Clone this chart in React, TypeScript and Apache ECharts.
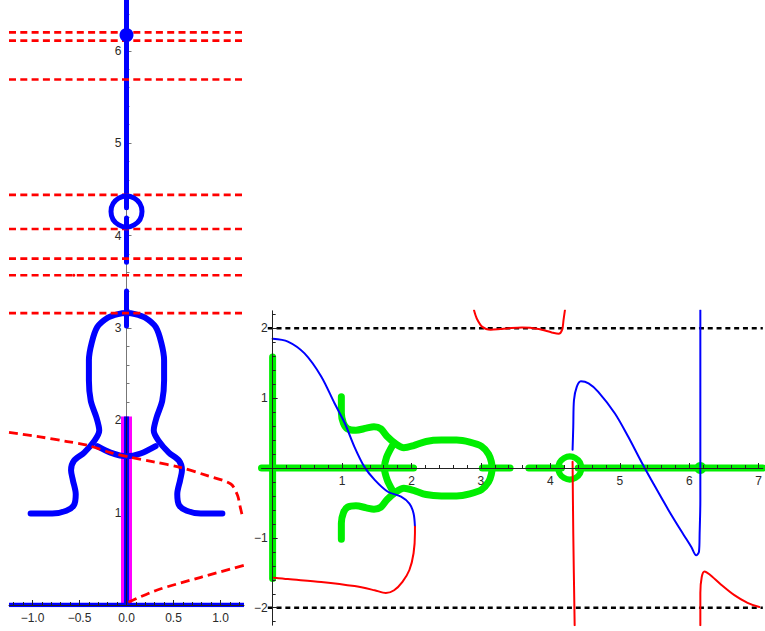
import { useEffect, useRef } from 'react';
import * as echarts from 'echarts';

type Pt = [number, number];

// ---------- left panel ----------
const levelLines = [6.2, 6.11, 5.69, 4.44, 4.07, 3.75, 3.57, 3.16];

const bulb: Pt[] = [
  [-1.02, 0.99], [-0.79, 0.99], [-0.64, 1.02], [-0.56, 1.08], [-0.54, 1.2], [-0.57, 1.35],
  [-0.59, 1.46], [-0.56, 1.56], [-0.45, 1.65], [-0.34, 1.78], [-0.29, 1.89], [-0.32, 2.03],
  [-0.38, 2.21], [-0.4, 2.43], [-0.4, 2.65], [-0.37, 2.84], [-0.31, 3.01], [-0.2, 3.11],
  [-0.09, 3.15], [0, 3.16], [0.09, 3.15], [0.2, 3.11], [0.31, 3.01], [0.37, 2.84],
  [0.4, 2.65], [0.4, 2.43], [0.38, 2.21], [0.32, 2.03], [0.29, 1.89], [0.34, 1.78],
  [0.45, 1.65], [0.56, 1.56], [0.59, 1.46], [0.57, 1.35], [0.54, 1.2], [0.56, 1.08],
  [0.64, 1.02], [0.79, 0.99], [1.02, 0.99],
];
const bulbArc: Pt[] = [[-0.31, 1.72], [-0.17, 1.65], [0, 1.61], [0.15, 1.64], [0.31, 1.72]];

const redCurveUpper: Pt[] = [
  [-1.25, 1.87], [-0.92, 1.82], [-0.63, 1.77], [-0.42, 1.73], [-0.17, 1.65], [0.04, 1.6],
  [0.29, 1.55], [0.57, 1.49], [0.86, 1.4], [1.11, 1.31], [1.18, 1.19], [1.21, 1.06], [1.24, 0.93],
];
const redCurveLower: Pt[] = [[0.02, 0.03], [0.32, 0.16], [0.79, 0.3], [1.25, 0.43]];

const spineSegments: Pt[][] = [
  [[0, 4.3], [0, 6.55]],
  [[0, 3.71], [0, 4.19]],
  [[0, 3.02], [0, 3.4]],
];
const spineDot: Pt = [0, 6.17];
const spineRing: Pt = [0, 4.26];
const stem: Pt[] = [[0, 0], [0, 2.04]];
const baseLine: Pt[] = [[-1.25, 0], [1.25, 0]];
const strayPoint: Pt = [-0.56, 3.57];

// ---------- right panel ----------
const bounds = [-2, 2];
const blueA: Pt[] = [
  [0, 1.85], [0.22, 1.81], [0.46, 1.64], [0.7, 1.31], [0.89, 0.93], [1.04, 0.64], [1.18, 0.3],
  [1.32, 0.02], [1.47, -0.17], [1.66, -0.34], [1.85, -0.41], [1.97, -0.51], [2.03, -0.65], [2.05, -0.84],
];
const redA: Pt[] = [
  [2.05, -0.84], [2.05, -0.93], [2.03, -1.22], [1.97, -1.46], [1.87, -1.63], [1.75, -1.75],
  [1.63, -1.79], [1.47, -1.75], [1.18, -1.69], [0.7, -1.63], [0.22, -1.59], [0.02, -1.57],
];
const redTop: Pt[] = [
  [2.9, 2.26], [2.94, 2.14], [3.02, 2.02], [3.14, 1.98], [3.28, 1.99], [3.4, 2.0], [3.59, 2.01],
  [3.83, 1.99], [4.02, 1.94], [4.12, 1.92], [4.17, 1.98], [4.19, 2.12], [4.21, 2.26],
];
const redDrop: Pt[] = [[4.32, 0.09], [4.33, -0.93], [4.35, -2.25]];
const blueB: Pt[] = [
  [4.32, 0.26], [4.33, 0.59], [4.34, 0.97], [4.38, 1.16], [4.44, 1.24], [4.55, 1.21], [4.69, 1.09],
  [4.93, 0.78], [5.12, 0.45], [5.31, 0.09], [5.51, -0.27], [5.7, -0.6], [5.89, -0.91], [6.03, -1.13],
  [6.1, -1.25], [6.14, -1.2], [6.15, -0.93], [6.16, -0.46], [6.16, 0.97], [6.16, 2.26],
];
const redC: Pt[] = [
  [6.16, -2.25], [6.16, -1.79], [6.18, -1.56], [6.22, -1.48], [6.29, -1.52], [6.46, -1.67],
  [6.65, -1.82], [6.84, -1.93], [7.01, -1.99],
];
const greenAxisSegments: Pt[] = [[-0.16, 2.03], [3.02, 3.42], [3.69, 4.16], [4.4, 7.06]];
const greenVertical: Pt = [-1.58, 1.59];
const greenRing: Pt = [4.28, 0];
const greenDot: Pt = [6.16, 0];

// ---------- ticks ----------
const leftXMajor = [-1, -0.5, 0, 0.5, 1];
const leftYMajor = [1, 2, 3, 4, 5, 6];
const rightXMajor = [1, 2, 3, 4, 5, 6, 7];
const rightYMajor = [-2, -1, 1, 2];

// tick positions on a k*step lattice between lo and hi, leaving out the majors
function minorTicks(lo: number, hi: number, step: number, majors: number[]) {
  const out: number[] = [];
  for (let k = Math.ceil(lo / step - 1e-9); k * step <= hi + 1e-9; k++) {
    const v = Math.round(k * step * 1000) / 1000;
    if (!majors.some((m) => Math.abs(m - v) < 1e-6) && Math.abs(v) > 1e-9) out.push(v);
  }
  return out;
}

// plot boxes and value ranges
const LEFT_BOX = { left: 9, top: 0, width: 235, height: 605 };
const LEFT_X: Pt = [-1.25, 1.25];
const LEFT_Y: Pt = [0, 6.55];
const RIGHT_BOX = { left: 261.5, top: 310.8, width: 503.5, height: 314.4 };
const RIGHT_X: Pt = [-0.16, 7.06];
const RIGHT_Y: Pt = [-2.25, 2.25];

// pixel shift that puts a y axis on x = 0 / an x axis on y = 0
const leftYShift = -(LEFT_BOX.width * (0 - LEFT_X[0])) / (LEFT_X[1] - LEFT_X[0]);
const rightYShift = -(RIGHT_BOX.width * (0 - RIGHT_X[0])) / (RIGHT_X[1] - RIGHT_X[0]);
const rightXShift = -(RIGHT_BOX.height * (0 - RIGHT_Y[0])) / (RIGHT_Y[1] - RIGHT_Y[0]);

const BLUE = '#0000ff';
const RED = '#ff0000';
const GREEN = '#00ee00';
const MAGENTA = '#ff00ff';
const AXIS = '#222222';
const FONT = 'Liberation Sans, Arial, sans-serif';

const minus = (s: string) => s.replace('-', '\u2212');

function majorAxis(grid: number, range: Pt, ticks: number[], fmt: (v: number) => string, margin: number, position: string, offset: number, color = AXIS, z = 10) {
  return {
    type: 'value', gridIndex: grid, min: range[0], max: range[1], position, offset, z,
    axisLine: { show: true, onZero: false, lineStyle: { color, width: 1 } },
    axisTick: { show: true, inside: true, length: 5, customValues: ticks, lineStyle: { color, width: 1 } },
    axisLabel: { show: true, customValues: ticks, formatter: fmt, margin, color: '#2a2a2a', fontSize: 12, fontFamily: FONT },
    splitLine: { show: false },
  };
}
function minorAxis(grid: number, range: Pt, ticks: number[], position: string, offset: number, color = AXIS, z = 10) {
  return {
    type: 'value', gridIndex: grid, min: range[0], max: range[1], position, offset, z,
    axisLine: { show: false, onZero: false },
    axisTick: { show: true, inside: true, length: 3, customValues: ticks, lineStyle: { color, width: 1 } },
    axisLabel: { show: false },
    splitLine: { show: false },
  };
}

function line(xi: number, data: Pt[], color: string, width: number, opts: any = {}) {
  return {
    type: 'line', xAxisIndex: xi, yAxisIndex: xi, data, symbol: 'none', silent: true,
    lineStyle: { color, width, cap: 'round', join: 'round', ...(opts.lineStyle || {}) },
    smooth: opts.smooth ?? 0, z: opts.z ?? 3,
  };
}
function dot(xi: number, p: Pt, color: string, size: number, ring = 0, z = 6) {
  return {
    type: 'scatter', xAxisIndex: xi, yAxisIndex: xi, data: [p], symbol: 'circle', symbolSize: size, silent: true, z,
    itemStyle: ring
      ? { color: 'rgba(0,0,0,0)', borderColor: color, borderWidth: ring, opacity: 1 }
      : { color, opacity: 1 },
  };
}

export default function App() {
  const ref = useRef<HTMLDivElement>(null);
  useEffect(() => {
    if (!ref.current) return;
    const chart = echarts.init(ref.current, null, { renderer: 'svg' });

    const series: any[] = [];
    // left panel (axis pair 0)
    series.push(line(0, stem, MAGENTA, 11, { lineStyle: { cap: 'butt' }, z: 2 }));
    series.push(line(0, stem, BLUE, 5, { lineStyle: { cap: 'butt' }, z: 3 }));
    series.push(line(0, stem, '#101040', 1.2, { lineStyle: { cap: 'butt' }, z: 3 }));
    series.push(line(0, baseLine, BLUE, 4.5, { lineStyle: { cap: 'butt' }, z: 3 }));
    spineSegments.forEach((s) => series.push(line(0, s, BLUE, 5, { z: 3 })));
    series.push(line(0, bulb, BLUE, 6, { smooth: 0.3, z: 3 }));
    series.push(line(0, bulbArc, BLUE, 6, { smooth: 0.3, z: 3 }));
    levelLines.forEach((v) =>
      series.push(line(0, [[-1.25, v], [1.25, v]], RED, 2.6, { lineStyle: { type: [7, 4.3], cap: 'butt' }, z: 4 })),
    );
    series.push(line(0, redCurveUpper, RED, 2.8, { smooth: 0.3, lineStyle: { type: [9, 5], cap: 'butt' }, z: 4 }));
    series.push(line(0, redCurveLower, RED, 2.8, { smooth: 0.3, lineStyle: { type: [9, 5], cap: 'butt' }, z: 4 }));
    series.push(dot(0, spineDot, BLUE, 14));
    series.push(dot(0, spineRing, BLUE, 31, 5));
    series.push(dot(0, strayPoint, RED, 3));

    // right panel (axis pair 2)
    bounds.forEach((b) =>
      series.push(line(2, [[-0.07, b], [7.06, b]], '#000000', 2.4, { lineStyle: { type: [5, 3.8], cap: 'butt' }, z: 2 })),
    );
    greenAxisSegments.forEach(([a, b]) => series.push(line(2, [[a, 0], [b, 0]], GREEN, 7, { z: 3 })));
    series.push(line(2, [[0, greenVertical[0]], [0, greenVertical[1]]], GREEN, 7, { z: 3 }));
    series.push(line(2, bulb.map(([x, y]) => [y, x] as Pt), GREEN, 7, { smooth: 0.3, z: 3 }));
    series.push(line(2, bulbArc.map(([x, y]) => [y, x] as Pt), GREEN, 7, { smooth: 0.3, z: 3 }));
    series.push(dot(2, greenRing, GREEN, 23, 6, 3));
    series.push(dot(2, greenDot, GREEN, 12, 0, 3));
    series.push(line(2, blueA, BLUE, 2, { smooth: 0.3, z: 4 }));
    series.push(line(2, redA, RED, 2, { smooth: 0.3, z: 4 }));
    series.push(line(2, redTop, RED, 2, { smooth: 0.3, z: 4 }));
    series.push(line(2, redDrop, RED, 2, { smooth: 0.3, z: 4 }));
    series.push(line(2, blueB, BLUE, 2, { smooth: 0.3, z: 4 }));
    series.push(line(2, redC, RED, 2, { smooth: 0.3, z: 4 }));

    const fixed1 = (v: number) => minus(v.toFixed(1));
    const plain = (v: number) => minus(String(v));

    chart.setOption({
      animation: false,
      backgroundColor: '#ffffff',
      grid: [LEFT_BOX, RIGHT_BOX],
      xAxis: [
        majorAxis(0, LEFT_X, leftXMajor, fixed1, 7, 'bottom', 0),
        minorAxis(0, LEFT_X, minorTicks(-1.25, 1.25, 0.1, leftXMajor), 'bottom', 0),
        majorAxis(1, RIGHT_X, rightXMajor, plain, 7, 'bottom', rightXShift),
        minorAxis(1, RIGHT_X, minorTicks(0, 7.06, 0.2, rightXMajor), 'bottom', rightXShift),
      ],
      yAxis: [
        // the central axis of the left panel sits beneath the curves drawn on it
        majorAxis(0, LEFT_Y, leftYMajor, plain, 5, 'left', leftYShift, '#777777', 1),
        minorAxis(0, LEFT_Y, minorTicks(0, 6.55, 0.2, leftYMajor), 'left', leftYShift, '#777777', 1),
        majorAxis(1, RIGHT_Y, rightYMajor, plain, 5, 'left', rightYShift),
        minorAxis(1, RIGHT_Y, minorTicks(-2.25, 2.25, 0.2, rightYMajor), 'left', rightYShift),
      ],
      series,
    });
    return () => chart.dispose();
  }, []);
  return <div ref={ref} style={{ position: 'absolute', left: 0, top: 0, width: 765, height: 631 }} />;
}
